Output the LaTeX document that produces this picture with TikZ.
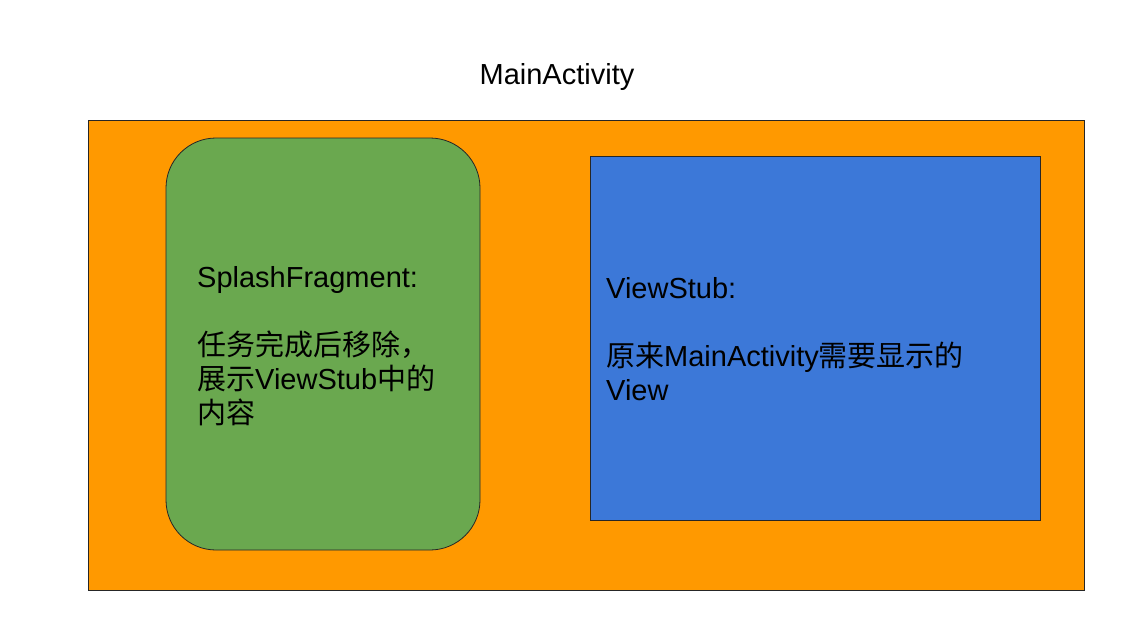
\documentclass[tikz,border=0pt]{standalone}
\usepackage{fontspec}
\setmainfont{Liberation Sans}
\newfontfamily\cjk{Noto Sans CJK SC}
\usepackage{xcolor}
\definecolor{actorange}{HTML}{FF9900}
\definecolor{fraggreen}{HTML}{6AA84F}
\definecolor{stubblue}{HTML}{3C78D8}
\usepackage{tikz}

\begin{document}
\begin{tikzpicture}[x=1pt,y=-1pt,
    box/.style={draw=black!85,line width=0.8pt,inner sep=0pt},
    txt/.style={anchor=west,align=left,inner sep=0pt,font=\fontsize{29}{34}\selectfont}]
  \useasboundingbox (0,0) rectangle (1132,642);

  \node (title) at (557,77) {\fontsize{29}{34}\selectfont MainActivity};

  \node[box,fill=actorange,minimum width=996pt,minimum height=470pt](act) at (586,355) {};
  \node[box,fill=fraggreen,rounded corners=50pt,minimum width=314pt,minimum height=412pt](frag) at (323,344) {};
  \node[box,fill=stubblue,minimum width=450pt,minimum height=364pt](stub) at (815,338) {};

  \node[txt](fragtxt) at (197,346) {SplashFragment:\\[34pt]
    {\cjk 任务完成后移除，}\\
    {\cjk 展示}ViewStub{\cjk 中的}\\
    {\cjk 内容}};
  \node[txt](stubtxt) at (606,339) {ViewStub:\\[34pt]
    {\cjk 原来}MainActivity{\cjk 需要显示的}\\
    View};
\end{tikzpicture}
\end{document}
